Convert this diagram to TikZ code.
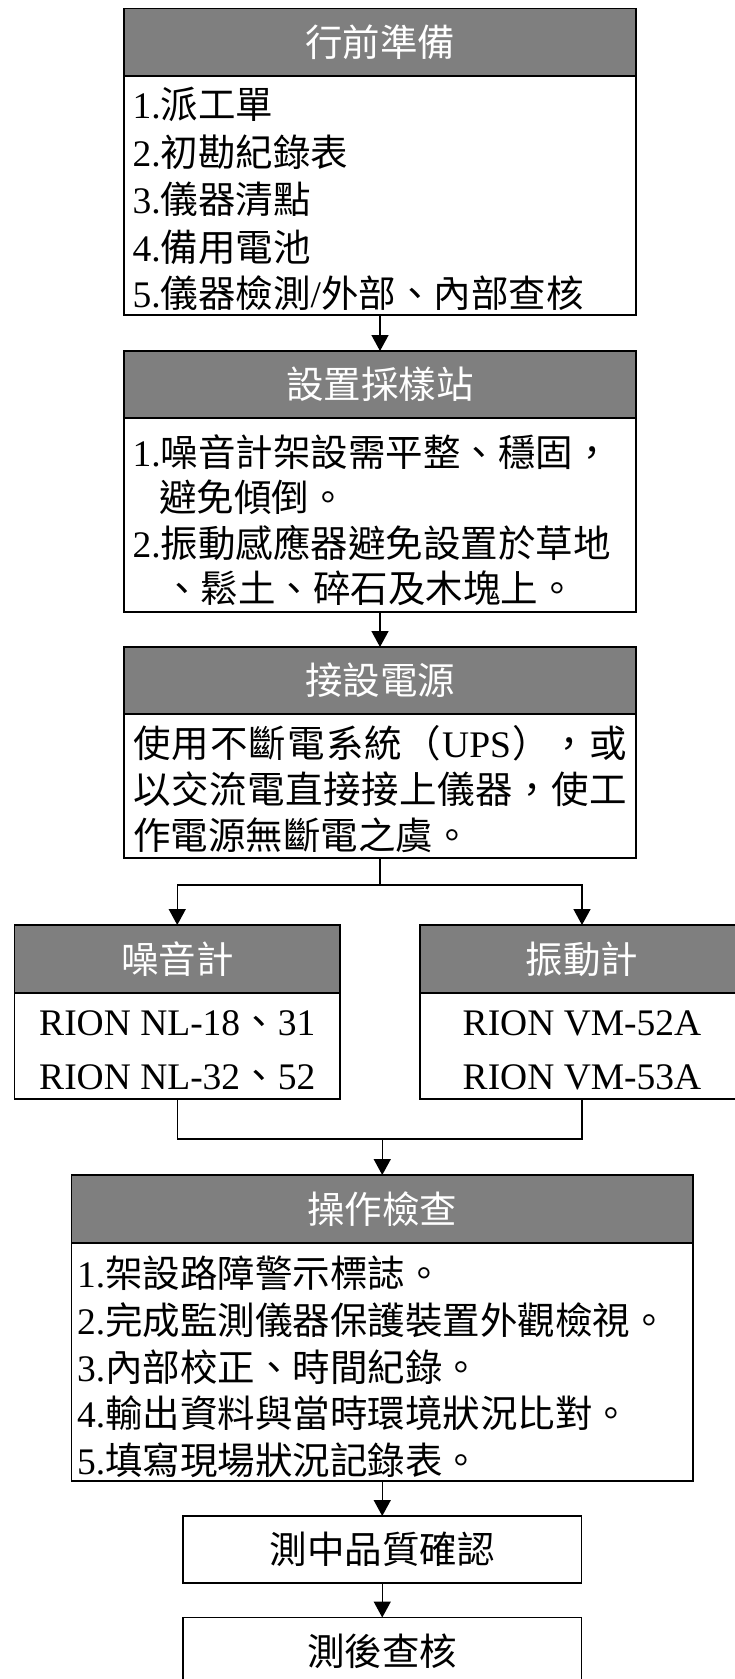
\documentclass[tikz,border=0pt]{standalone}
\usepackage{fontspec}
\setmainfont{Liberation Serif}
\newfontfamily\cjk{Noto Sans CJK TC}
\usetikzlibrary{arrows.meta}
\definecolor{hdrgray}{HTML}{7F7F7F}
\begin{document}
\begin{tikzpicture}[x=1pt,y=-1pt,
  every node/.style={inner sep=0pt, outer sep=0pt},
  fs/.style={font=\fontsize{37.5}{45}\selectfont},
  hdr/.style={draw, line width=1.5pt, fill=hdrgray, text=white, fs, text height=32.5pt, text depth=4.5pt},
  bodybox/.style={draw, line width=1.5pt, fill=white},
  plainbox/.style={draw, line width=1.5pt, fill=white, fs, text height=32.5pt, text depth=4.5pt},
  txt/.style={anchor=west, fs, text height=32.5pt, text depth=4.5pt},
  ctxt/.style={fs, text height=32.5pt, text depth=4.5pt},
  conn/.style={line width=1.5pt, -{Triangle[length=16pt,width=17pt]}},
  wire/.style={line width=1.5pt}
]
\useasboundingbox (0,0) rectangle (734,1679);
\fill[white] (0,0) rectangle (734,1679);

% Box 1
\node[hdr, minimum width=512pt, minimum height=67.7pt] (h1) at (380,42.2) {\cjk 行前準備};
\node[bodybox, minimum width=512pt, minimum height=239pt] (b1) at (380,195.5) {};
\node[txt] (t11) at (132.5,104) {1.{\cjk 派工單}};
\node[txt] (t12) at (132.5,152) {2.{\cjk 初勘紀錄表}};
\node[txt] (t13) at (132.5,199) {3.{\cjk 儀器清點}};
\node[txt] (t14) at (132.5,247) {4.{\cjk 備用電池}};
\node[txt] (t15) at (132.5,293) {5.{\cjk 儀器檢測}/{\cjk 外部、內部查核}};

% Box 2
\node[hdr, minimum width=512pt, minimum height=67pt] (h2) at (380,384.5) {\cjk 設置採樣站};
\node[bodybox, minimum width=512pt, minimum height=194pt] (b2) at (380,515) {};
\node[txt] (t21) at (132.5,452) {1.{\cjk 噪音計架設需平整、穩固，}};
\node[txt] (t22) at (159,497) {\cjk 避免傾倒。};
\node[txt] (t23) at (132.5,543) {2.{\cjk 振動感應器避免設置於草地}};
\node[txt] (t24) at (163,588) {\cjk 、鬆土、碎石及木塊上。};

% Box 3
\node[hdr, minimum width=512pt, minimum height=67pt] (h3) at (380,680.5) {\cjk 接設電源};
\node[bodybox, minimum width=512pt, minimum height=144pt] (b3) at (380,786) {};
\node[txt] (t31) at (133,743) {\hbox to 494pt{\cjk 使\hfil 用\hfil 不\hfil 斷\hfil 電\hfil 系\hfil 統\hfil （\hfil{\rmfamily UPS}\hfil ）\hfil ，\hfil 或}};
\node[txt] (t32) at (133,789) {\hbox to 494pt{\cjk 以\hfil 交\hfil 流\hfil 電\hfil 直\hfil 接\hfil 接\hfil 上\hfil 儀\hfil 器\hfil ，\hfil 使\hfil 工}};
\node[txt] (t33) at (133,835) {\cjk 作電源無斷電之虞。};

% Branch boxes
\node[hdr, minimum width=325.5pt, minimum height=68pt] (hl) at (177.25,959) {\cjk 噪音計};
\node[bodybox, minimum width=325.5pt, minimum height=106pt] (bl) at (177.25,1046) {};
\node[ctxt] (tl1) at (177.25,1021) {RION NL-18{\cjk 、}31};
\node[ctxt] (tl2) at (177.25,1075) {RION NL-32{\cjk 、}52};

\node[hdr, minimum width=324pt, minimum height=68pt] (hr) at (582,959) {\cjk 振動計};
\node[bodybox, minimum width=324pt, minimum height=106pt] (br) at (582,1046) {};
\node[ctxt] (tr1) at (582,1021) {RION VM-52A};
\node[ctxt] (tr2) at (582,1075) {RION VM-53A};

% Box 5
\node[hdr, minimum width=621.5pt, minimum height=68pt] (h5) at (382.25,1209) {\cjk 操作檢查};
\node[bodybox, minimum width=621.5pt, minimum height=238pt] (b5) at (382.25,1362) {};
\node[txt] (t51) at (77,1273) {1.{\cjk 架設路障警示標誌。}};
\node[txt] (t52) at (77,1320) {2.{\cjk 完成監測儀器保護裝置外觀檢視。}};
\node[txt] (t53) at (77,1367) {3.{\cjk 內部校正、時間紀錄。}};
\node[txt] (t54) at (77,1413) {4.{\cjk 輸出資料與當時環境狀況比對。}};
\node[txt] (t55) at (77,1460) {5.{\cjk 填寫現場狀況記錄表。}};

% Final boxes
\node[plainbox, minimum width=398.5pt, minimum height=67pt] (q1) at (382.25,1549.5) {\cjk 測中品質確認};
\node[plainbox, minimum width=398.5pt, minimum height=68pt] (q2) at (382.25,1651.5) {\cjk 測後查核};

% Connectors
\draw[conn] (b1.south) -- (h2.north);
\draw[conn] (b2.south) -- (h3.north);
\coordinate (j1) at (380,885);
\draw[wire] (b3.south) -- (j1);
\draw[conn] (j1) -| (hl.north);
\draw[conn] (j1) -| (hr.north);
\coordinate (m1) at (382.25,1139);
\draw[wire] (bl.south) |- (m1);
\draw[wire] (br.south) |- (m1);
\draw[conn] (m1) -- (h5.north);
\draw[conn] (b5.south) -- (q1.north);
\draw[conn] (q1.south) -- (q2.north);
\end{tikzpicture}
\end{document}
